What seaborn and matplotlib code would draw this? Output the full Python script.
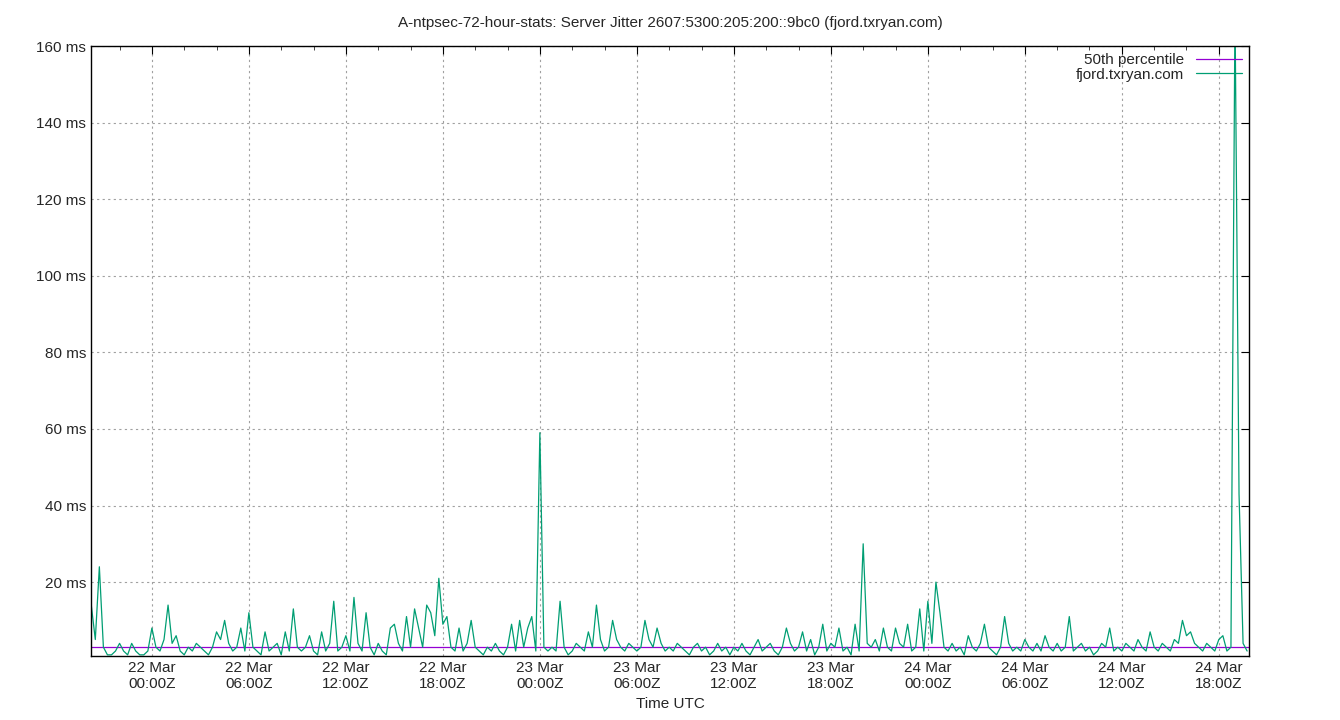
import matplotlib
matplotlib.use("Agg")
import matplotlib.pyplot as plt
import matplotlib.dates as mdates
import numpy as np
import pandas as pd
import seaborn as sns

# jitter samples every 15 min, ms, from 21 Mar 20:15Z
seg_a = [14, 5, 24, 3, 1, 1, 2, 4, 2, 1, 4, 2, 1, 1, 2]
seg_b = [8, 3, 2, 5, 14, 4, 6, 2, 1, 3, 2, 4, 3, 2, 1, 3, 7, 5, 10, 4, 2, 3, 8, 2]
seg_c = [12, 3, 2, 1, 7, 2, 3, 4, 1, 7, 2, 13, 3, 2, 3, 6, 2, 1, 7, 2, 4, 15, 2, 3]
seg_d = [6, 2, 16, 4, 2, 12, 3, 1, 4, 2, 1, 8, 9, 4, 2, 11, 3, 13, 8, 3, 14, 12, 6, 21]
seg_e = [9, 11, 3, 2, 8, 2, 4, 10, 3, 2, 1, 3, 2, 4, 2, 1, 3, 9, 2, 10, 3, 8, 11, 2]
seg_f = [59, 3, 2, 3, 2, 15, 3, 1, 2, 4, 3, 2, 7, 3, 14, 5, 2, 3, 10, 5, 3, 2, 4, 3]
seg_g = [2, 3, 10, 5, 3, 8, 4, 2, 3, 2, 4, 3, 2, 1, 3, 4, 2, 3, 1, 2, 4, 2, 3, 1]
seg_h = [3, 2, 4, 2, 1, 3, 5, 2, 3, 4, 2, 1, 3, 8, 4, 2, 3, 7, 2, 5, 1, 3, 9, 2]
seg_i = [4, 3, 8, 2, 3, 1, 9, 2, 30, 4, 3, 5, 2, 8, 3, 2, 8, 4, 3, 9, 2, 3, 13, 2]
seg_j = [15, 4, 20, 12, 3, 2, 4, 2, 3, 1, 6, 3, 2, 4, 9, 3, 2, 1, 3, 11, 4, 2, 3, 2]
seg_k = [5, 3, 2, 4, 2, 6, 3, 2, 4, 2, 3, 11, 2, 3, 4, 2, 3, 1, 2, 4, 3, 8, 2, 3]
seg_l = [2, 4, 3, 2, 5, 3, 2, 7, 3, 2, 4, 3, 2, 5, 4, 10, 6, 7, 4, 3, 2, 4, 3, 2]
seg_m = [5, 6, 2, 3, 170, 43, 4, 2]
jitter = (seg_a + seg_b + seg_c + seg_d + seg_e + seg_f + seg_g + seg_h
          + seg_i + seg_j + seg_k + seg_l + seg_m)
p50 = 3.0

times = pd.date_range("2024-03-21 20:15", periods=len(jitter), freq="15min")
df = pd.DataFrame({"time": times, "jitter": jitter})

sns.set_style("white")
plt.rcParams["font.family"] = ["Liberation Sans", "DejaVu Sans"]

fig = plt.figure(figsize=(13.4, 7.2), dpi=100)
ax = fig.add_axes([91 / 1340, 1 - 656 / 720, (1249 - 91) / 1340, (656 - 46) / 720])

ax.axhline(p50, color="#9400d3", lw=0.9, label="50th percentile")
sns.lineplot(data=df, x="time", y="jitter", ax=ax, color="#009e73", lw=0.9,
             label="fjord.txryan.com")

ax.set_xlim(pd.Timestamp("2024-03-21 20:14"), pd.Timestamp("2024-03-24 19:52"))
ax.set_ylim(0.7, 160)
ax.set_yticks(range(20, 161, 20))
ax.set_yticklabels([f"{v} ms" for v in range(20, 161, 20)])
ax.xaxis.set_major_locator(mdates.HourLocator(byhour=range(0, 24, 6)))
ax.xaxis.set_minor_locator(mdates.HourLocator(byhour=range(0, 24, 2)))
ax.xaxis.set_major_formatter(mdates.DateFormatter("%d %b\n%H:%MZ"))
ax.tick_params(direction="in", top=True, right=True, labelsize=11, length=6, color="black")
ax.tick_params(which="minor", direction="in", top=True, length=3)
ax.grid(True, color="#a0a0a0", ls=(0, (2, 3)), lw=0.8)
for s in ax.spines.values():
    s.set_color("black")
    s.set_linewidth(1)
ax.set_xlabel("Time UTC", fontsize=11)
ax.set_ylabel("")
ax.set_title("A-ntpsec-72-hour-stats: Server Jitter 2607:5300:205:200::9bc0 (fjord.txryan.com)",
             fontsize=11, pad=14)
leg = ax.legend(loc="upper right", frameon=False, fontsize=11, markerfirst=False,
                handlelength=3, borderaxespad=0.05, labelspacing=0.05)
for t in leg.get_texts():
    t.set_ha("right")

fig.savefig("out.png", dpi=100)
